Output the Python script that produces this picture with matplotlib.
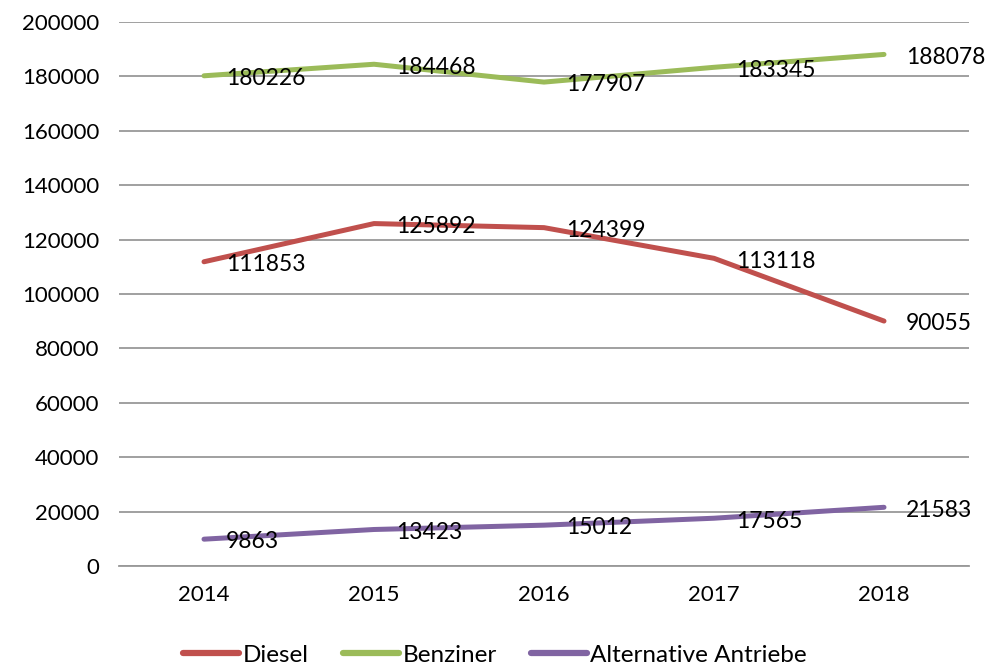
import matplotlib
matplotlib.use("Agg")
import matplotlib.pyplot as plt

years = ["2014", "2015", "2016", "2017", "2018"]
diesel = [111853, 125892, 124399, 113118, 90055]
benziner = [180226, 184468, 177907, 183345, 188078]
alternative = [9863, 13423, 15012, 17565, 21583]
series_names = ["Diesel", "Benziner", "Alternative Antriebe"]
y_ticks = [0, 20000, 40000, 60000, 80000, 100000, 120000, 140000, 160000, 180000, 200000]

colors = ["#C0504D", "#9BBB59", "#8064A2"]
plt.rcParams['font.family'] = ['Lato', 'DejaVu Sans']

fig = plt.figure(figsize=(9.9, 6.66), dpi=100)
W, H = 990, 666
ax = fig.add_axes([119 / W, 1 - 566 / H, (969 - 119) / W, (566 - 22) / H])

x = list(range(len(years)))
for name, vals, c in zip(series_names, [diesel, benziner, alternative], colors):
    ax.plot(x, vals, color=c, lw=3.6, solid_capstyle='round', label=name, zorder=3)
    for xi, v in zip(x, vals):
        ax.annotate(str(v), (xi, v), xytext=(16, -2), textcoords='offset points',
                    ha='left', va='center', fontsize=16.5, color='black', zorder=4)

ax.set_xlim(-0.5, len(years) - 0.5)
ax.set_ylim(0, 200000)
ax.set_yticks(y_ticks)
ax.set_yticklabels([str(t) for t in y_ticks])
ax.set_xticks(x)
ax.set_xticklabels(years)
ax.tick_params(axis='both', length=0, labelsize=16, colors='black')
ax.tick_params(axis='y', pad=14)
ax.tick_params(axis='x', pad=14)
ax.grid(axis='y', color='#999999', lw=1.3)
ax.set_axisbelow(True)
for s in ['left', 'right', 'top']:
    ax.spines[s].set_visible(False)
ax.spines['bottom'].set_color('#999999')
ax.spines['bottom'].set_linewidth(1.3)

leg = fig.legend(loc='center', bbox_to_anchor=(0.5, 1 - 655 / H), ncol=3, frameon=False,
                 fontsize=17.5, handlelength=2.3, handletextpad=0.15, columnspacing=1.4)
for l in leg.get_lines():
    l.set_linewidth(4.5)
    l.set_solid_capstyle('round')

fig.savefig("out.png", dpi=100)
